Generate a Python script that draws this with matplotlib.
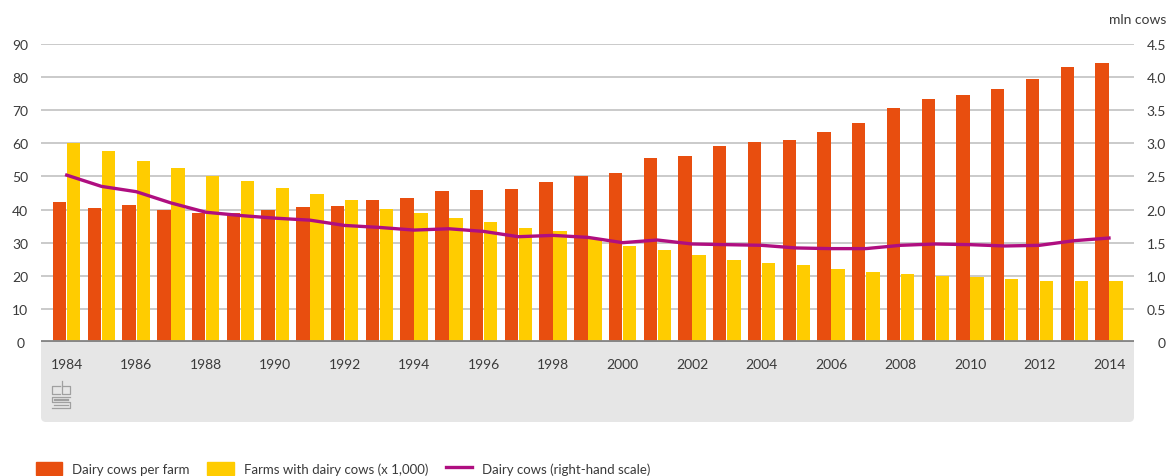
import numpy as np
import matplotlib
matplotlib.use("Agg")
import matplotlib.pyplot as plt
from matplotlib.patches import FancyBboxPatch, Patch
from matplotlib.lines import Line2D

plt.rcParams['font.family'] = ['Lato', 'DejaVu Sans']

years = np.arange(1984, 2015)
per_farm = [42.3, 40.4, 41.4, 39.8, 39.1, 38.9, 39.8, 40.9, 41.2, 42.9,
            43.6, 45.6, 45.8, 46.1, 48.4, 50.1, 50.9, 55.5, 56.3, 59.2,
            60.3, 60.9, 63.4, 66.2, 70.6, 73.4, 74.6, 76.3, 79.3, 83.1, 84.4]
farms = [60.0, 57.7, 54.8, 52.7, 50.2, 48.5, 46.6, 44.7, 42.9, 40.3,
         38.9, 37.4, 36.1, 34.3, 33.4, 31.2, 29.1, 27.7, 26.2, 24.9,
         24.0, 23.4, 22.1, 21.0, 20.5, 19.9, 19.5, 19.1, 18.4, 18.4, 18.4]
cows = [2.52, 2.35, 2.27, 2.10, 1.96, 1.91, 1.87, 1.84, 1.76, 1.73,
        1.69, 1.71, 1.67, 1.59, 1.61, 1.58, 1.50, 1.54, 1.48, 1.47,
        1.46, 1.42, 1.41, 1.41, 1.46, 1.48, 1.47, 1.45, 1.46, 1.53, 1.57]
left_ticks = np.arange(0, 91, 10)
right_ticks = np.arange(0, 4.51, 0.5)
right_labels = ['0'] + ['%.1f' % v for v in right_ticks[1:]]

orange = '#e84e0f'
yellow = '#ffcc00'
purple = '#af0e80'
txt = '#3a3a3a'

W, H = 1168, 477
fig = plt.figure(figsize=(W / 100, H / 100), dpi=100)
ax = fig.add_axes([41 / W, 134 / H, (1134 - 41) / W, 298 / H])
ax.set_zorder(1)
ax.set_facecolor('white')

# grey band under the axis
band = FancyBboxPatch((0.41, 0.54), 11.34 - 0.41, 0.95,
                      boxstyle='round,pad=0,rounding_size=0.05',
                      transform=fig.dpi_scale_trans, facecolor='#e6e6e6',
                      edgecolor='none', zorder=0)
fig.add_artist(band)

w = 0.385
ax.bar(years - w / 2 - 0.01, per_farm, width=w, color=orange, zorder=2)
ax.bar(years + w / 2 + 0.01, farms, width=w, color=yellow, zorder=2)
ax.set_xlim(1983.26, 2014.72)
ax.set_ylim(0, 90)
ax.set_yticks(left_ticks)
ax.grid(axis='y', color='#c6c6c6', linewidth=1.3, zorder=0)
ax.axhline(0, color='#878787', linewidth=3.5, zorder=3)
for s in ax.spines.values():
    s.set_visible(False)
ax.set_xticks(years[::2])
ax.tick_params(axis='x', length=0, pad=11.5, labelsize=10, labelcolor=txt)
ax.tick_params(axis='y', length=0, pad=15, labelsize=10, labelcolor=txt)
for lab in ax.get_yticklabels():
    lab.set_horizontalalignment('center')

ax2 = ax.twinx()
ax2.plot(years, cows, color=purple, linewidth=2.4, zorder=4)
ax2.set_ylim(0, 4.5)
ax2.set_yticks(right_ticks)
ax2.set_yticklabels(right_labels)
ax2.tick_params(axis='y', length=0, pad=23, labelsize=10, labelcolor=txt)
for lab in ax2.get_yticklabels():
    lab.set_horizontalalignment('right')
for s in ax2.spines.values():
    s.set_visible(False)
fig.text(1166 / W, 1 - 20 / H, 'mln cows', ha='right', va='center',
         fontsize=10, color=txt)

# cbs logo (rough)
lc = '#a0a0a0'
def seg(xs, ys):
    fig.add_artist(Line2D(np.array(xs) / W, 1 - np.array(ys) / H,
                          color=lc, linewidth=0.9, transform=fig.transFigure,
                          zorder=1))
seg([60, 52, 52, 60], [387, 387, 395, 395])
seg([62, 62, 70, 70, 62], [382, 395, 395, 387, 387])
seg([70, 52, 52, 70, 70, 52], [398, 398, 403, 403, 409, 409])
seg([68, 54, 54, 68], [400, 400, 401, 401])
seg([54, 68], [406, 406])

handles = [Patch(color=orange), Patch(color=yellow),
           Line2D([], [], color=purple, linewidth=2.4)]
labels = ['Dairy cows per farm', 'Farms with dairy cows (x 1,000)',
          'Dairy cows (right-hand scale)']
fig.legend(handles, labels, ncol=3, loc='lower left',
           bbox_to_anchor=(24 / W, -11 / H), frameon=False, fontsize=9.5,
           handlelength=2.0, handleheight=1.2, handletextpad=0.75,
           columnspacing=1.35, labelcolor=txt)

fig.savefig('out.png', dpi=100)
